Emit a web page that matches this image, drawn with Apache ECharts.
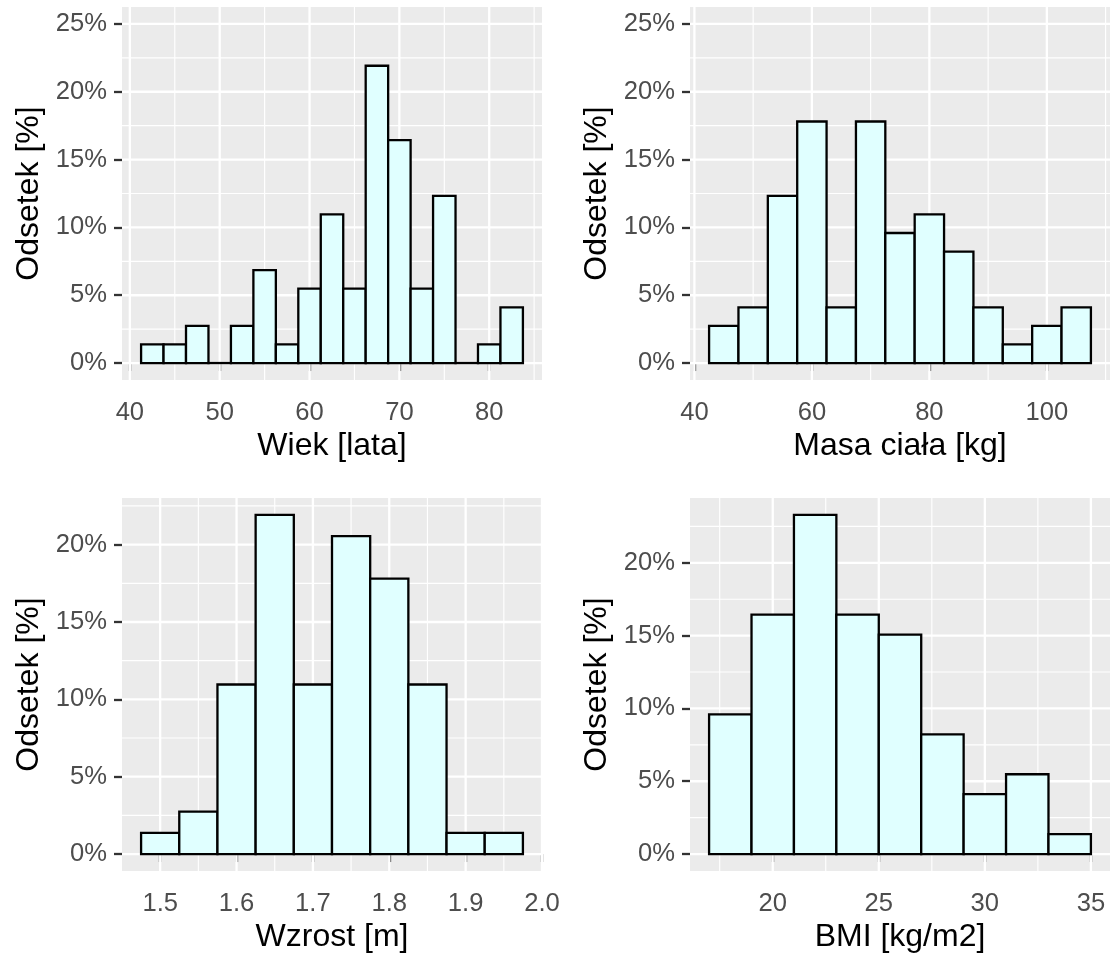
<!DOCTYPE html>
<html>
<head>
<meta charset="utf-8">
<script src="https://cdn.jsdelivr.net/npm/echarts@6/dist/echarts.min.js"></script>
<style>
  html, body { margin: 0; padding: 0; background: #ffffff; }
  #chart { width: 1111px; height: 957px; }
</style>
</head>
<body>
<div id="chart"></div>
<script>
// ---- Age (bins of 2.5 years) ----
const ageMids = [42.5, 45, 47.5, 50, 52.5, 55, 57.5, 60, 62.5, 65, 67.5, 70, 72.5, 75, 77.5, 80, 82.5];
const ageCounts = [1, 1, 2, 0, 2, 5, 1, 4, 8, 4, 16, 12, 4, 9, 0, 1, 3];
const ageBinWidth = 2.5;
const ageTicks = [40, 50, 60, 70, 80];
const ageTickLabels = ['40', '50', '60', '70', '80'];
const ageMinor = [45, 55, 65, 75, 85];

// ---- Body mass (bins of 5 kg) ----
const massMids = [45, 50, 55, 60, 65, 70, 75, 80, 85, 90, 95, 100, 105];
const massCounts = [2, 3, 9, 13, 3, 13, 7, 8, 6, 3, 1, 2, 3];
const massBinWidth = 5;
const massTicks = [40, 60, 80, 100];
const massTickLabels = ['40', '60', '80', '100'];
const massMinor = [50, 70, 90, 110];

// ---- Height (bins of 0.05 m) ----
const heightMids = [1.5, 1.55, 1.6, 1.65, 1.7, 1.75, 1.8, 1.85, 1.9, 1.95];
const heightCounts = [1, 2, 8, 16, 8, 15, 13, 8, 1, 1];
const heightBinWidth = 0.05;
const heightTicks = [1.5, 1.6, 1.7, 1.8, 1.9, 2.0];
const heightTickLabels = ['1.5', '1.6', '1.7', '1.8', '1.9', '2.0'];
const heightMinor = [1.55, 1.65, 1.75, 1.85, 1.95];

// ---- BMI (bins of 2 kg/m2) ----
const bmiMids = [18, 20, 22, 24, 26, 28, 30, 32, 34];
const bmiCounts = [7, 12, 17, 12, 11, 6, 3, 4, 1];
const bmiBinWidth = 2;
const bmiTicks = [20, 25, 30, 35];
const bmiTickLabels = ['20', '25', '30', '35'];
const bmiMinor = [17.5, 22.5, 27.5, 32.5];

// ---- Percentage axis ----
const pctTicksTo25 = [0, 5, 10, 15, 20, 25];
const pctTicksTo20 = [0, 5, 10, 15, 20];
const pctMinor = [2.5, 7.5, 12.5, 17.5, 22.5];

const yTitle = 'Odsetek [%]';

const FONT = '"Liberation Sans", Arial, Helvetica, sans-serif';
const TICK_COLOR = '#333333';
const LABEL_COLOR = '#4D4D4D';
const PANEL_BG = '#EBEBEB';
const BAR_FILL = '#E0FFFF';
const OUTLINE = 2.3;

// Panel definitions (data + axis breaks)
const panels = [
  { mids: ageMids, counts: ageCounts, bw: ageBinWidth, xTicks: ageTicks, xLabels: ageTickLabels,
    xMinor: ageMinor, yTicks: pctTicksTo25, yMinor: pctMinor, yLimit: 25, title: 'Wiek [lata]' },
  { mids: massMids, counts: massCounts, bw: massBinWidth, xTicks: massTicks, xLabels: massTickLabels,
    xMinor: massMinor, yTicks: pctTicksTo25, yMinor: pctMinor, yLimit: 25, title: 'Masa ciała [kg]' },
  { mids: heightMids, counts: heightCounts, bw: heightBinWidth, xTicks: heightTicks, xLabels: heightTickLabels,
    xMinor: heightMinor, yTicks: pctTicksTo20, yMinor: pctMinor, yLimit: null, title: 'Wzrost [m]' },
  { mids: bmiMids, counts: bmiCounts, bw: bmiBinWidth, xTicks: bmiTicks, xLabels: bmiTickLabels,
    xMinor: bmiMinor, yTicks: pctTicksTo20, yMinor: pctMinor, yLimit: null, title: 'BMI [kg/m2]' }
];

// Placement of the four panels on the page
const layout = [
  { left: 122, top: 7, width: 420, height: 373 },
  { left: 690, top: 7, width: 420, height: 373 },
  { left: 122, top: 498, width: 420, height: 373 },
  { left: 690, top: 498, width: 420, height: 373 }
];

function tidy(v) {
  return Math.round(v * 1e9) / 1e9;
}

// 5% padding on each side of a range
function expand(lo, hi) {
  const pad = (hi - lo) * 0.05;
  return [tidy(lo - pad), tidy(hi + pad)];
}

function gridLineRender(params, api) {
  const cs = params.coordSys;
  const v = api.value(0);
  const kind = api.value(1); // 0 = x major, 1 = x minor, 2 = y major, 3 = y minor
  const pt = api.coord([v, v]);
  let shape;
  if (kind < 2) {
    shape = { x1: pt[0], y1: cs.y, x2: pt[0], y2: cs.y + cs.height };
  } else {
    shape = { x1: cs.x, y1: pt[1], x2: cs.x + cs.width, y2: pt[1] };
  }
  return {
    type: 'line',
    shape: shape,
    style: { stroke: '#FFFFFF', lineWidth: (kind % 2 === 0) ? 2.3 : 1.15 }
  };
}

// Bins are outlined rectangles; an empty bin shows only its black base edge
function makeBarRender(bw) {
  return function (params, api) {
    const c = api.value(0);
    const p = api.value(1);
    const tl = api.coord([c - bw / 2, p]);
    const br = api.coord([c + bw / 2, 0]);
    const h = br[1] - tl[1];
    if (h < 0.5) {
      return {
        type: 'rect',
        shape: { x: tl[0] - OUTLINE / 2, y: br[1] - OUTLINE / 2, width: br[0] - tl[0] + OUTLINE, height: OUTLINE },
        style: { fill: '#000000' }
      };
    }
    return {
      type: 'rect',
      shape: { x: tl[0], y: tl[1], width: br[0] - tl[0], height: h },
      style: { fill: BAR_FILL, stroke: '#000000', lineWidth: OUTLINE }
    };
  };
}

const grids = [], xAxes = [], yAxes = [], series = [];

panels.forEach((pn, i) => {
  const total = pn.counts.reduce((s, c) => s + c, 0);
  const pct = pn.counts.map(c => c / total * 100);
  const xr = expand(pn.mids[0] - pn.bw / 2, pn.mids[pn.mids.length - 1] + pn.bw / 2);
  const yHi = pn.yLimit !== null ? pn.yLimit : Math.max.apply(null, pct);
  const yr = expand(0, yHi);

  grids.push(Object.assign({
    show: true, backgroundColor: PANEL_BG, borderWidth: 0, containLabel: false
  }, layout[i]));

  xAxes.push({
    type: 'value', gridIndex: i, min: xr[0], max: xr[1],
    name: pn.title, nameLocation: 'middle', nameGap: 50,
    nameTextStyle: { fontFamily: FONT, fontSize: 32, color: '#000000' },
    axisLine: { show: false },
    axisTick: { show: true, length: 8, customValues: pn.xTicks,
      lineStyle: { color: TICK_COLOR, width: 2.3 } },
    axisLabel: { show: true, customValues: pn.xTicks, margin: 20,
      showMinLabel: true, showMaxLabel: true,
      fontFamily: FONT, fontSize: 25.6, color: LABEL_COLOR,
      formatter: v => { const k = pn.xTicks.findIndex(t => Math.abs(t - v) < 1e-6); return k >= 0 ? pn.xLabels[k] : ''; } },
    splitLine: { show: false }
  });

  yAxes.push({
    type: 'value', gridIndex: i, min: yr[0], max: yr[1],
    name: yTitle, nameLocation: 'middle', nameGap: 77,
    nameTextStyle: { fontFamily: FONT, fontSize: 32, color: '#000000' },
    axisLine: { show: false },
    axisTick: { show: true, length: 8, customValues: pn.yTicks,
      lineStyle: { color: TICK_COLOR, width: 2.3 } },
    axisLabel: { show: true, customValues: pn.yTicks, margin: 15,
      fontFamily: FONT, fontSize: 25.6, color: LABEL_COLOR,
      formatter: v => Math.round(v) + '%' },
    splitLine: { show: false }
  });

  const lines = []
    .concat(pn.xMinor.map(v => [v, 1]))
    .concat(pn.yMinor.map(v => [v, 3]))
    .concat(pn.xTicks.map(v => [v, 0]))
    .concat(pn.yTicks.map(v => [v, 2]));

  series.push({
    type: 'custom', xAxisIndex: i, yAxisIndex: i, z: 1, silent: true,
    renderItem: gridLineRender, data: lines
  });

  series.push({
    type: 'custom', xAxisIndex: i, yAxisIndex: i, z: 2, silent: true,
    renderItem: makeBarRender(pn.bw),
    data: pn.mids.map((m, k) => [m, pct[k]])
  });
});

const chart = echarts.init(document.getElementById('chart'), null, { renderer: 'canvas' });
chart.setOption({
  animation: false,
  backgroundColor: '#FFFFFF',
  textStyle: { fontFamily: FONT },
  grid: grids,
  xAxis: xAxes,
  yAxis: yAxes,
  series: series
});
</script>
</body>
</html>
